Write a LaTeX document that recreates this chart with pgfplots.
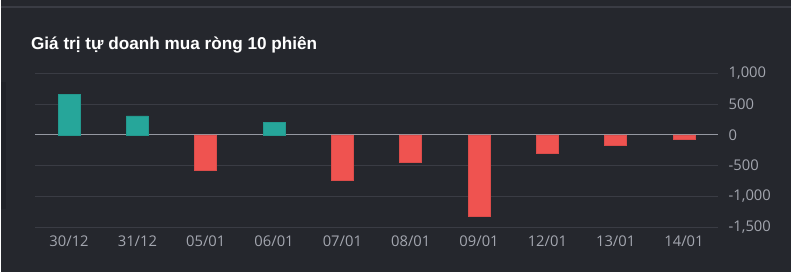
\documentclass[border=0pt]{standalone}
\usepackage{fontspec}
\setmainfont{Open Sans}
\newfontfamily\titlefont{Liberation Sans}
\usepackage{pgfplots}
\pgfplotsset{compat=1.18}
\definecolor{bg}{HTML}{25272D}
\definecolor{gridc}{HTML}{3A3C44}
\definecolor{zeroc}{HTML}{9598A1}
\definecolor{lbl}{HTML}{A3A6AF}
\definecolor{up}{HTML}{26A69A}
\definecolor{down}{HTML}{EF5350}
\definecolor{panel}{HTML}{202228}
\begin{document}
\begin{tikzpicture}[x=1pt,y=1pt]
\fill[bg] (0,0) rectangle (792,273);
\draw[gridc, line width=2pt] (0,265.5) -- (792,265.5);
\fill[panel] (0,63) rectangle (5,191);
\node[anchor=base west, inner sep=0pt, font=\titlefont\bfseries\fontsize{17.2}{20}\selectfont, text=white] at (30,223.7) {Giá trị tự doanh mua ròng 10 phiên};
\begin{axis}[
  at={(34pt,45.3pt)}, anchor=south west,
  scale only axis, width=685pt, height=154.2pt,
  xmin=-0.5, xmax=9.5, ymin=-1500, ymax=1000,
  axis line style={draw=none},
  major tick length=0pt,
  xtick={0,...,9},
  xticklabels={30/12,31/12,05/01,06/01,07/01,08/01,09/01,12/01,13/01,14/01},
  ytick={-1500,-1000,-500,0,500,1000},
  yticklabels={{-1,500},{-1,000},{-500},{0},{500},{1,000}},
  yticklabel pos=right,
  yticklabel style={anchor=west, xshift=7pt, text=lbl, font=\fontsize{14.8}{17}\selectfont},
  xticklabel style={text=lbl, font=\fontsize{14.8}{17}\selectfont, yshift=-5pt},
  ymajorgrids, grid style={gridc, line width=1pt},
  extra y ticks={0}, extra y tick labels={},
  extra y tick style={grid style={zeroc, line width=1.2pt}},
  ybar, bar width=22pt, bar shift=0pt,
]
\addplot[fill=up, draw=up!92!black, line width=0.6pt] coordinates {(0,660) (1,308) (3,206)};
\addplot[fill=down, draw=down!92!black, line width=0.6pt] coordinates {(2,-584) (4,-747) (5,-450) (6,-1331) (7,-292) (8,-168) (9,-65)};
\end{axis}
\end{tikzpicture}
\end{document}
